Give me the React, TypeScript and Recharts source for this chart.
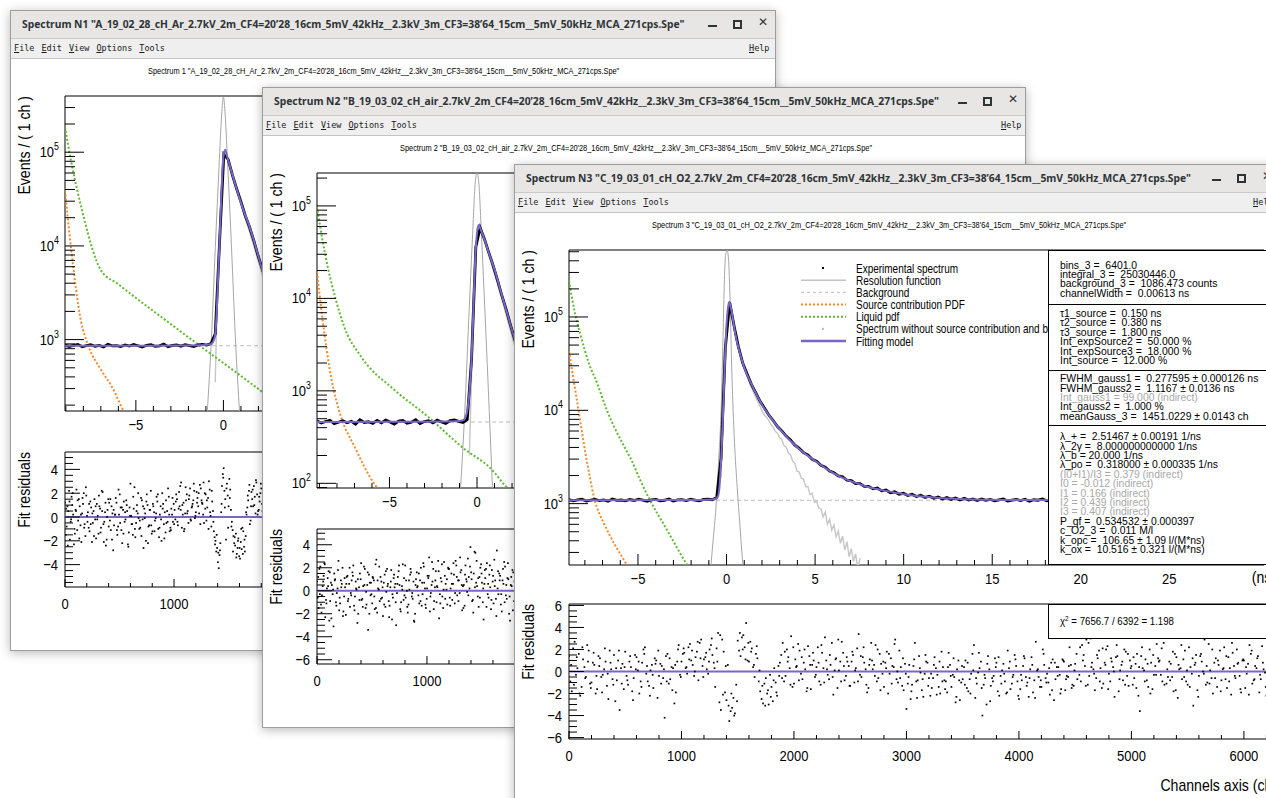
import React from 'react';
import { ComposedChart, Line, Scatter, XAxis, YAxis, ReferenceArea, Legend } from 'recharts';

const HELV = "'Liberation Sans', Arial, sans-serif";
const K = 0.84; // ROOT's Helvetica is narrower than Liberation Sans

const PURPLE = '#7a65c8';
const ORANGE = '#f5892b';
const GREEN = '#5db932';
const RES_GRAY = '#a6a6a6';
const BG_GRAY = '#bcbcbc';
const WO_GRAY = '#c6c6c6';

const CH_WIDTH = 0.00613; // ns per channel
const N_CH = 6401;
const EXP_STEP = 40; // experimental points kept every 40 channels
const WO_STEP = 20; // "without source" points kept every 20 channels

const TITLE_1 = 'Spectrum N1 "A_19_02_28_cH_Ar_2.7kV_2m_CF4=20\u201928_16cm_5mV_42kHz__2.3kV_3m_CF3=38\u201964_15cm__5mV_50kHz_MCA_271cps.Spe"';
const TITLE_2 = 'Spectrum N2 "B_19_03_02_cH_air_2.7kV_2m_CF4=20\u201928_16cm_5mV_42kHz__2.3kV_3m_CF3=38\u201964_15cm__5mV_50kHz_MCA_271cps.Spe"';
const TITLE_3 = 'Spectrum N3 "C_19_03_01_cH_O2_2.7kV_2m_CF4=20\u201928_16cm_5mV_42kHz__2.3kV_3m_CF3=38\u201964_15cm__5mV_50kHz_MCA_271cps.Spe"';
const SUB_1 = 'Spectrum 1 "A_19_02_28_cH_Ar_2.7kV_2m_CF4=20\'28_16cm_5mV_42kHz__2.3kV_3m_CF3=38\'64_15cm__5mV_50kHz_MCA_271cps.Spe"';
const SUB_2 = 'Spectrum 2 "B_19_03_02_cH_air_2.7kV_2m_CF4=20\'28_16cm_5mV_42kHz__2.3kV_3m_CF3=38\'64_15cm__5mV_50kHz_MCA_271cps.Spe"';
const SUB_3 = 'Spectrum 3 "C_19_03_01_cH_O2_2.7kV_2m_CF4=20\'28_16cm_5mV_42kHz__2.3kV_3m_CF3=38\'64_15cm__5mV_50kHz_MCA_271cps.Spe"';
const MENU = ['File', 'Edit', 'View', 'Options', 'Tools'];

// ---------- spectrum 1 (cH Ar) ----------
const t0Ch1 = 1476;
const bg1 = 860;
const modelT1 = [-9.048, -4, -1.2, -0.7, -0.5, -0.4, -0.3, -0.2, -0.1, 0, 0.1, 0.23, 0.4, 0.61, 0.9, 1.2, 1.56, 1.9, 2.31, 2.8, 3.5];
const model1 = [860, 862, 870, 900, 1050, 1700, 4800, 14000, 42000, 90000, 106000, 88000, 68000, 50000, 33000, 22500, 14700, 9000, 4900, 3000, 1900];
const resT1 = [-0.92, -0.7, -0.46, -0.25, -0.1, 0, 0.1, 0.25, 0.46, 0.7, 0.92];
const res1 = [171, 900, 9800, 70000, 250000, 390000, 250000, 70000, 9800, 900, 171];
const srcT1 = [-9.048, -8.71, -8.14, -7.72, -7.0, -6.33, -5.67, -5.3];
const src1 = [39000, 9700, 1600, 860, 480, 304, 170, 140];
const liqT1 = [-9.048, -8.7, -8.3, -7.93, -7.5, -7.0, -6.0, -5.12, -3.22, -1.32, 0.58, 2.3, 3.6];
const liq1 = [186000, 80000, 36000, 18700, 9500, 5500, 3900, 2900, 1570, 850, 468, 270, 180];
const exp1 = [872, 845, 866, 889, 838, 861, 880, 850, 868, 833, 892, 857, 864, 842, 879, 853, 886, 860, 835, 870,
  883, 848, 859, 894, 840, 867, 876, 851, 884, 862, 844, 878, 889, 873, 905,
  1150, 11000, 95000, 84000, 57000, 40500, 29500, 21000, 15800, 11300, 7800, 5600, 4200];
const woStart1 = 1400;
const wo1 = [350, 3500, 12500, 42000, 92000, 104000, 82000, 67000, 55000, 46000, 38500, 32500, 27500, 23000, 19500,
  16500, 14000, 11800, 9900, 8300, 6900, 5800, 4800, 4000, 3300, 2700];
// fit residuals, every 15 channels, starting at channels 0, 7 and 11
const resid1 = [1.2, -0.8, 0.5, -1.9, 1.7, 0.2, -1.4, 2.3, -0.3, 0.9, -2.1, 1.1, -0.6, 1.8,
  0.4, -1.2, 0.8, -0.5, 1.5, -1.8, 0.1, 0.9, -0.9, 2.1, -0.4, -2.4, 0.6, 1.2, -1.1, 0.3, -0.7, 1.6, -1.5, 0.2,
  0.8, -2.2, 1.3, -0.2, 0.5, -1.3, 2.8, -0.6, 0.7, -1.7, 1.0, -0.1, -0.9, 1.4, -2.6, 0.3, 1.9, -0.8, 0.6, -1.4,
  0.9, -0.3, 1.7, -1.0, 0.2, -2.0, 1.1, 0.4, -0.5, 2.4, -1.2, 0.7, -0.4,
  0.6, 1.9, -0.7, 0.9, 2.9, 0.2, -1.0, 1.4, 0.5, 1.8, -0.3, 1.1, 2.2, 0.4,
  1.6, 0.3, 2.4, 1.1, -0.5, 1.9, 0.8, 3.0, 0.1, 1.3, -1.2, -2.0, -2.6,
  -4.3, -2.2, 2.6, 4.1, 1.5, 2.8, 0.9, 2.3, -0.4, -1.6, -2.4, -3.1, -1.8, -3.5, -2.7, -1.2, -2.9, 0.2, 1.4, -0.6,
  2.1, 0.9, 1.7, 2.9, 0.5, 1.3, 2.4];
const resid1b = [-1.5, 0.9, 2.2, -0.4, 1.0, -2.3, 0.6, -1.1, 1.5, -0.7, 0.3, 2.0, -1.6, 0.1,
  -0.9, 1.3, -2.1, 0.5, -0.2, 1.1, -1.4, 0.7, 2.2, -0.6, 0.4, -1.9, 1.5, -0.3, 0.9, -2.8, 0.2, 1.2, -0.8, 1.9,
  -1.1, 0.6, -0.4, 1.4, -2.3, 0.8, 0.1, -1.5, 2.5, -0.5, 0.3, -1.0, 1.6, -0.2, 0.7, -2.0, 1.0, -0.7, 2.2, -1.2,
  0.4, -0.1, 1.3, -1.7, 0.9, 2.0, -0.6, -1.3, 0.5, 1.7, -0.9, 0.2, 1.1,
  -0.2, 1.5, 0.7, 2.6, -0.9, 1.2, 0.3, 1.9, -0.5, 2.4, 0.8, 1.4, -0.1, 2.1,
  0.9, 2.7, 1.4, 0.2, 2.0, -0.3, 1.6, 2.3, -0.8, 0.5, -1.7, -2.9, -3.8,
  -3.2, 0.4, 3.6, 2.2, -1.9, 1.8, 3.2, 0.6, -1.1, -2.2, -1.4, -2.6, -3.3, -2.1, -0.9, -2.5, -1.6, 0.8, 2.2, -0.3,
  1.5, 2.6, 0.3, 1.9, 0.6, 2.0, 1.1];
const resid1c = [0.7, -2.4, 1.3, -0.2, 2.0, -1.0, 0.5, 1.4, -1.8, 0.2, 1.6, -0.9, 2.5, -0.4,
  1.1, -0.6, 0.3, -1.6, 0.9, -0.2, 1.8, -1.3, 0.5, -2.1, 1.2, 0.0, -0.8, 1.5, -1.9, 0.6, 0.2, -1.1, 2.3, -0.5,
  0.8, -1.4, 0.4, 1.0, -2.5, 0.1, -0.6, 1.7, -1.0, 0.5, 2.0, -0.3, -1.6, 0.9, -0.1, 1.3, -2.2, 0.6, -0.7, 1.1,
  -1.2, 0.3, 1.9, -0.9, -0.2, 0.7, -1.8, 1.4, -0.4, 0.2, -1.1, 1.6, -0.6,
  1.3, -0.4, 2.1, 0.6, 1.0, -1.2, 2.5, 0.3, 1.5, -0.2, 0.9, 2.8, 0.1, 1.2,
  2.0, -0.6, 1.2, 2.9, 0.7, 1.4, -1.0, 0.4, 2.2, -0.4, -2.3, -1.5, -3.0,
  -2.8, 1.1, 3.3, 0.8, 2.4, -0.9, 1.6, -0.8, -2.9, -1.7, -3.4, -2.0, -2.6, -1.0, -3.1, -1.9, 0.4, 1.8, 2.7, 0.9,
  2.3, 1.0, 3.1, 0.2, 1.7, 2.8, 0.5];

// ---------- spectrum 2 (cH air) ----------
const t0Ch2 = 1491;
const bg2 = 460;
const modelT2 = [-9.14, -4, -1.2, -0.8, -0.6, -0.45, -0.32, -0.22, -0.13, -0.05, 0.02, 0.1, 0.2, 0.44, 0.7, 1.01, 1.39, 1.75, 2.16, 2.6, 3.2];
const model2 = [460, 462, 468, 480, 560, 900, 2100, 6500, 20000, 40000, 55000, 62000, 56000, 42600, 30000, 20200, 11300, 6600, 3560, 2100, 1200];
const resT2 = [-0.94, -0.7, -0.47, -0.25, -0.1, 0, 0.1, 0.25, 0.47, 0.7, 0.88];
const res2 = [89, 600, 6000, 50000, 180000, 225000, 180000, 50000, 6000, 600, 89];
const srcT2 = [-9.14, -8.82, -8.34, -7.77, -7.0, -5.86, -5.5];
const src2 = [19400, 5900, 1420, 525, 250, 98, 80];
const liqT2 = [-9.14, -8.82, -8.53, -8.05, -7.58, -6.62, -4.71, -2.8, -0.9, 1.01, 1.49, 2.0];
const liq2 = [98000, 42000, 22000, 9500, 4900, 2340, 1020, 525, 250, 130, 100, 80];
const exp2 = [472, 448, 466, 481, 441, 458, 476, 452, 469, 437, 486, 455, 463, 444, 479, 451, 483, 460, 436, 470,
  478, 447, 457, 488, 442, 465, 474, 450, 482, 461, 445, 477, 484, 468, 456, 490,
  2200, 36000, 58000, 44000, 31500, 22800, 16000, 11000, 7800, 5300, 3650, 2750, 2000];
const woStart2 = 1420;
const wo2 = [200, 1500, 7500, 34000, 55000, 55000, 48000, 41500, 35500, 29800, 25000, 21000, 17500, 14600, 12000,
  10000, 8200, 6800, 5600, 4600, 3800, 3100, 2500, 2050, 1680, 1360];
const resid2 = [0.8, -1.5, 2.1, -0.4, 1.3, -2.3, 0.2, 1.7, -0.9, 0.5, -3.1, 1.0, -0.2, 2.6, -1.1, 0.6, -1.8, 0.3, 1.2, -0.7,
  -1.4, 0.9, 2.2, -0.5, 0.1, -2.0, 1.5, -0.8, 0.4, 1.9, -1.2, -3.4, 0.7, -0.3, 1.1, -1.6, 2.7, 0.2, -0.9, 0.8,
  -2.2, 1.4, -0.1, 0.6, -1.3, 1.8, -0.6, 0.3, -3.0, 1.2, 0.5, -1.0, 2.3, -0.4, 0.9, -1.9, 0.1, 1.6, -0.7, -2.7,
  1.0, 0.4, -1.1, 2.0, -0.3, 0.7, -1.5, 1.3, 2.9, -0.2, 0.8, -0.9, 1.7, 0.3, -2.4, 1.1, -0.5, 2.5, 0.6, -1.2,
  1.9, 0.2, -0.8, 1.4, 2.6, -0.4, 0.9, 1.6, -1.7, 0.5, 2.2, -0.1, 1.2, 3.8, -0.9, 1.5, 3.3, 0.4, -1.4, 2.0,
  0.7, -2.5, 1.1, 2.4, -0.6, 0.3, 1.8, -1.1, 0.9, 3.5, -0.3, 1.3, -1.8, 0.6, 2.1, -0.7, 1.0, -2.6, 0.4, 1.6, 0.2];
const resid2b = [-0.6, 1.9, -1.2, 0.4, 2.4, -0.8, 1.1, -2.6, 0.7, -0.3, 1.5, -1.0, 0.2, -1.7, 0.9, 2.0, -0.5, -2.1, 1.3, 0.6,
  -0.2, 1.6, -1.3, 0.8, -2.8, 0.3, 1.0, -0.7, 2.1, -1.5, 0.5, 1.4, -0.4, -1.1, 0.9, 2.3, -1.9, 0.1, 1.2, -0.6,
  0.7, -1.4, 1.9, -0.9, 0.3, -2.5, 1.1, 0.6, -0.2, 1.7, -1.6, 0.4, -0.8, 2.2, 0.0, -1.2, 1.4, -0.5, 0.8, -2.0,
  1.6, -0.4, 0.9, -1.3, 2.4, 0.2, -0.7, 1.1, -1.8, 0.5, 1.9, 0.3, -1.0, 2.6, -0.3, 0.8, -1.5, 1.3, 0.1, 2.0,
  -0.6, 1.5, 0.6, -1.1, 2.2, 0.9, -0.2, 1.8, 0.4, -1.3, 1.0, 2.8, 0.2, 1.6, -0.8, 3.4, 0.7, -0.5, 1.2, 2.3,
  -1.0, 0.6, 1.9, -0.3, 1.4, -1.6, 0.8, 2.7, -0.7, 0.2, 1.5, -1.2, 0.9, 2.5, -0.4, 1.1, -2.0, 0.5, 1.8, -0.9, 0.3];
const resid2c = [1.2, -0.3, -1.9, 0.8, 2.3, -1.1, 0.4, 1.6, -2.4, 0.1, 0.9, -1.3, 1.8, -0.6, 0.3, -2.2, 1.1, 0.6, -0.9, 2.0,
  -0.4, 1.3, -1.7, 0.2, 1.0, -0.8, 2.4, -1.4, 0.5, -0.1, 1.6, -2.0, 0.7, 1.2, -0.5, -1.5, 0.9, 2.1, -0.7, 0.3,
  -1.2, 1.7, 0.4, -2.3, 0.8, -0.3, 1.4, -1.0, 0.6, 2.2, -1.8, 0.1, 1.1, -0.6, -1.4, 0.9, 1.9, -0.2, -2.6, 0.5,
  0.3, 1.5, -0.9, 0.7, 2.1, -1.2, 0.2, 1.3, -0.5, 2.5, -1.6, 0.9, 0.4, 1.7, -1.1, 2.3, 0.1, -0.7, 1.0, 1.9,
  -1.3, 0.6, 2.4, -0.2, 1.2, -0.9, 2.9, 0.5, -1.5, 1.4, 0.8, -0.4, 2.1, 1.0, -1.9, 0.3, 2.6, 1.1, -0.6, 1.5,
  0.2, 1.8, -1.4, 0.6, 2.2, -0.8, 1.3, 0.4, -2.2, 1.7, 0.9, -0.3, 1.9, -1.0, 0.5, 2.4, -0.5, 1.2, -1.7, 0.8, 1.4];

// ---------- spectrum 3 (cH O2) ----------
const t0Ch3 = 1451;
const bg3 = 1086.473;
const modelT3 = [-8.895, -6, -3, -1.5, -0.8, -0.5, -0.4, -0.3, -0.2, -0.1, 0, 0.08, 0.15, 0.22, 0.3, 0.4, 0.5, 0.75, 1, 1.5,
  2, 2.5, 3, 4, 5, 6, 7, 8, 9, 10, 12, 14, 17, 20, 25, 30.345];
const model3 = [1088, 1089, 1091, 1095, 1105, 1180, 1500, 3100, 9000, 30000, 83000, 125000, 146000, 132000, 111000, 85000,
  65000, 41000, 28700, 17500, 11500, 8300, 6300, 4000, 2870, 2140, 1740, 1510, 1370, 1260, 1150, 1110, 1095, 1090, 1088, 1087];
const resT3 = [-0.88, -0.75, -0.6, -0.45, -0.3, -0.2, -0.12, -0.05, 0.03, 0.11, 0.2, 0.3, 0.45, 0.6, 0.75, 0.92];
const res3 = [220, 420, 900, 2800, 11000, 60000, 250000, 470000, 520000, 420000, 150000, 25000, 4500, 1500, 600, 220];
const srcT3 = [-8.895, -8.65, -8.44, -8.2, -7.96, -7.72, -7.48, -7.2, -6.9, -6.6, -6.32, -6.0, -5.65, -5.3];
const src3 = [43000, 22000, 12600, 6500, 3400, 1950, 1150, 800, 600, 460, 365, 290, 224, 180];
const liqT3 = [-8.895, -8.6, -8.25, -7.8, -7.28, -6.8, -6.32, -5.84, -5.36, -4.88, -4.39, -3.43, -2.24, -1.8];
const liq3 = [244000, 120000, 65000, 33000, 19000, 10500, 6500, 4300, 2900, 1800, 1150, 550, 224, 170];
const exp3 = [1102, 1071, 1095, 1118, 1064, 1089, 1110, 1077, 1098, 1060, 1121, 1085, 1093, 1069, 1107, 1081, 1115, 1090,
  1058, 1099, 1112, 1074, 1087, 1124, 1066, 1096, 1105, 1079, 1113, 1092, 1070, 1108, 1119, 1101, 1160,
  3050, 47000, 143000, 80500, 48200, 32100, 24700, 19000, 15500, 12500, 10600, 8900, 7780, 6700, 6020, 5290, 4820,
  4230, 3910, 3520, 3330, 2990, 2850, 2570, 2460, 2230, 2140, 1980, 1940, 1780, 1760, 1640, 1640, 1530, 1530, 1440,
  1470, 1370, 1400, 1310, 1340, 1260, 1290, 1220, 1260, 1190, 1230, 1165, 1200, 1140, 1180, 1120, 1160, 1110, 1150,
  1095, 1140, 1090, 1125, 1080, 1120, 1085,
  1110, 1072, 1098, 1120, 1066, 1093, 1107, 1079, 1115, 1061, 1100, 1088, 1123, 1070, 1096, 1109, 1083, 1062, 1117,
  1091, 1075, 1104, 1126, 1068, 1094, 1111, 1080, 1099, 1065, 1116, 1087, 1072, 1106, 1121, 1077, 1097, 1059, 1113,
  1090, 1084, 1118, 1069, 1101, 1093, 1076, 1125, 1063, 1108, 1086, 1114, 1071, 1097, 1105, 1067, 1119, 1082, 1094,
  1073, 1110, 1089, 1062, 1103, 1117, 1080];
const woStart3 = 1400;
const wo3 = [1900, 9500, 46000, 100000, 140000, 108000, 78000, 58000, 46000, 38000, 31000, 26500, 23000, 20000, 17600,
  15500, 13800, 12300, 11000, 9800, 8900, 8350, 7800, 7050, 6600, 5950, 5700, 5100, 4850, 4200, 4050, 3500, 3350,
  2850, 2700, 2230, 2180, 1870, 1830, 1520, 1530, 1250, 1290, 1030, 1060, 900, 880, 720, 810, 600, 680, 520, 590,
  440, 510, 375, 450, 320, 390, 270, 330, 240, 290, 200, 260];
// fit residuals, every 25 channels, starting at channels 0, 12 and 19
const resid3 = [1.4, -1.8, 2.7, 0.3, -2.2, 1.1, -0.5, 1.9,
  -1.0, 0.6, -1.6, 1.2, -0.3, 0.9, -2.5, 0.2, 1.5, -0.8, -3.5, 0.7,
  1.8, -1.2, 0.4, -0.6, 1.3, -2.0, 0.8, 2.2, -0.9, 0.1, -1.5, 1.0, -0.4, 0.5, -4.2, 1.6, -0.7, 0.3, -1.9, 2.4,
  0.9, 1.7, -0.2, 2.5, 0.6, 1.3, -0.8, 2.9, 1.1, 0.2, 2.0, 1.5,
  -1.4, 3.5, -3.5, 1.8, -2.6, -4.5, -3.3, -3.8,
  2.8, 1.4, 3.3, 4.4, 0.9, 2.1, -0.5, 1.2,
  -1.8, -2.9, -0.6, -3.0, -1.4, 0.3, -2.2,
  0.8, 2.6, -0.4, 1.3, 3.2, -1.1, 0.5, 1.9, -0.7, 0.2, 2.3, -1.6, 1.0, 0.4, -0.9, 1.7, 3.1, -0.3, 0.6, -2.1, 1.2, 0.1, 2.7, -0.8, 0.9,
  -1.3, 1.5, 0.3, 3.4, -0.5, 0.8, -1.9, 1.1, 0.2, 2.4, -0.6, 0.7, -1.4, 1.8, -0.2, 0.5, 2.9, -1.0, 0.4, -1.7,
  -3.4, 0.6, -1.2, 2.6, -0.8, -0.1, -2.3, 0.9, -0.6, -1.5, 1.3, -0.3, -2.0, 0.4, -0.9, 1.7, -1.4, -0.5, 0.2, -2.6,
  -0.7, 1.0, -1.8, -0.2, 2.4, -1.1, 0.3, -4.0, -0.6, 1.4, -1.3, -0.4, 0.8, -2.2, 0.1, -0.9, 1.9, -1.6, -0.3, 0.5,
  -2.5, -0.8, 1.2, -1.0, 0.2, -1.9, 2.7, -0.5, -1.4, 0.6, -0.2, -2.1, 1.1, -0.7, 0.4, -1.6, 0.9, -0.4, 2.2, -1.2,
  0.7, 3.4, -0.9, 1.5, 2.9, -0.4, 0.8, -1.7, 1.2, 0.3, -1.1, 2.0, -0.2, 0.9, -2.3, 1.4, 0.1, -0.8, 1.8, -1.3,
  0.5, -0.6, 1.6, -3.6, 0.3, 1.1, -1.4, 0.8, -0.3, 2.5, 1.0, -0.9, 3.3, -0.5, 0.7, -1.8, 1.3, 0.2, -0.7, 1.9,
  -1.2, 0.4, -3.1, 1.5, -0.4, 0.9, 2.9, -1.0, 0.1, -2.0, 1.2, 0.6, -0.8, 2.2, -1.5, 0.3, 1.7, -0.6, 0.8, -1.9,
  1.0, -0.2, 2.4, -1.1, 0.5, 1.4, -0.7, 0.2, -2.2, 1.8, 0.7, -0.9, 2.6, -0.3, 1.1, -1.3, 0.4];
const resid3b = [-0.9, 2.1, -0.3, 1.6, -1.4, 0.4, 2.4, -1.1,
  0.8, -2.0, 1.4, -0.5, 0.2, -1.3, 1.9, -0.7, -2.7, 1.0, 0.3, -1.6,
  -0.4, 0.9, -1.8, 1.5, 0.1, -0.9, 2.0, -0.2, -1.3, 0.6, 1.2, -2.4, 0.7, -0.6, 1.4, -1.1, 0.4, -2.9, 0.9, -0.3,
  1.6, 0.3, 2.2, 1.0, -0.4, 1.8, 2.6, 0.5, 1.3, -0.2, 2.4, 0.8,
  2.1, -2.8, 2.9, -1.9, 0.6, -3.6, -2.4, -1.2,
  1.9, 3.1, 2.2, 1.0, 2.7, 0.4, 1.6, -0.9,
  -2.5, -1.1, -2.0, -0.3, -2.7, -1.0, 0.5,
  1.5, -0.9, 2.0, 0.3, -1.4, 1.1, 2.5, -0.2, 0.8, -1.8, 1.4, 0.6, -0.5, 2.2, -1.2, 0.3, 1.0, -0.7, 2.6, 0.1, -1.5, 0.9, 1.7, -0.4, 0.5,
  0.9, -1.0, 2.1, -0.3, 1.3, 0.2, -1.5, 2.6, 0.6, -0.9, 1.6, -0.2, 0.8, -2.0, 1.2, 0.4, -0.7, 1.9, -1.3, 0.7,
  -1.1, -2.5, 0.5, -0.9, 1.4, -1.7, -0.2, 0.8, -2.2, -0.6, 0.3, -1.4, 1.8, -0.8, -1.9, 0.6, -0.3, -2.8, 1.0, -1.0,
  0.4, -1.5, -0.7, 1.6, -2.4, -0.1, 0.9, -1.2, -3.0, 0.2, -0.6, 1.2, -1.8, -0.4, 0.7, -2.0, 0.3, -1.1, 1.5, -0.9,
  -1.6, 0.5, -0.5, -2.3, 1.3, -0.8, 0.1, -1.4, 2.0, -0.6, -1.0, 0.8, -2.6, 0.4, -0.3, 1.1, -1.7, -0.5, 0.6, -1.3,
  1.6, -0.3, 2.4, 0.5, -1.2, 3.0, 0.2, -0.6, 1.9, -1.5, 0.8, 2.3, -0.9, 0.4, 1.3, -1.8, 0.6, 2.0, -0.4, 1.0,
  -1.2, 0.7, -2.2, 1.4, 0.1, -0.8, 2.0, -1.6, 0.5, 1.2, -0.3, 2.6, -1.1, 0.9, -0.5, 1.6, -2.4, 0.3, 1.1, -0.9,
  2.2, -0.2, 0.6, -1.7, 1.4, 0.0, -1.2, 2.5, -0.6, 0.8, -1.4, 1.9, 0.2, -0.7, 1.3, -2.1, 0.5, 2.0, -0.4, 1.0,
  -1.5, 0.7, 1.6, -0.8, 0.3, -1.9, 2.3, -0.1, 0.9, -1.0, 1.5, -0.5, 0.4, 2.1, -1.3, 0.6];
const resid3c = [0.6, -1.2, 1.3, -2.0, 2.2, -0.6, 0.9, -1.5,
  1.7, -0.4, 0.5, -1.9, 2.1, -0.2, 0.8, -1.2, 0.3, 1.9, -1.1, 0.4,
  -0.8, 1.4, -2.6, 0.2, 0.9, -1.4, 1.6, 0.5, -2.2, -0.3, 0.7, 1.9, -1.1, 0.2, -0.9, 1.2, -1.7, 0.6, 2.0, -0.5,
  2.1, 0.4, 1.1, 1.9, 0.0, 2.7, 1.2, -0.5, 1.7, 0.9, 3.0, 0.3,
  0.9, 3.3, -2.1, 0.5, -3.1, -2.0, -4.0, -2.7,
  3.5, 2.0, 1.1, 2.6, 1.8, 0.6, 2.3, 0.1,
  -1.3, -3.1, -1.7, -2.3, -0.8, -1.9, -0.4,
  -0.6, 1.8, 0.9, -1.2, 2.2, 0.4, -0.8, 1.3, 2.0, -1.5, 0.6, 1.7, -0.3, 0.8, 2.4, -1.0, 0.2, 1.5, -0.5, 1.1, 2.9, -0.9, 0.5, 1.3, -1.3,
  1.8, 0.1, -0.9, 1.4, 2.2, -1.2, 0.6, 1.0, -0.4, 2.0, -1.7, 0.9, 0.3, 1.6, -1.1, 2.5, 0.0, -0.6, 1.2, -0.2,
  -0.5, -1.8, 1.1, -2.4, 0.3, -0.7, 1.5, -1.3, -0.2, 0.6, -2.1, 0.9, -0.9, -1.6, 0.4, -0.4, 1.2, -2.3, -0.8, 0.5,
  -1.2, 0.8, -2.0, 0.1, -0.6, 1.7, -1.5, -0.3, 0.7, -2.7, -0.9, 0.4, 1.3, -1.1, -0.2, -1.9, 0.9, -0.5, 1.1, -2.2,
  -0.3, 1.4, -1.3, -0.6, 0.6, -2.4, 0.2, -0.8, 1.6, -1.0, 0.3, -1.7, 0.8, -0.4, -2.0, 1.0, -0.7, 0.5, -1.5, 0.1,
  -0.7, 2.2, 1.0, -1.3, 2.6, 0.4, -0.2, 1.5, -0.9, 2.1, 0.6, -1.6, 1.2, 0.0, 2.4, -0.7, 0.9, -1.2, 1.6, 0.3,
  1.3, -1.5, 0.4, 2.2, -0.9, 0.7, -2.0, 1.5, -0.3, 0.9, 2.1, -1.2, 0.2, -0.8, 1.8, -1.7, 0.6, 2.4, -0.5, 0.1,
  -1.4, 1.2, 0.8, -2.3, 1.6, -0.2, 0.5, -1.1, 2.0, -0.6, 1.0, -1.8, 0.3, 1.4, -0.9, 2.6, -0.4, 0.7, -1.6, 1.1,
  0.4, -2.1, 1.9, -0.7, 1.2, -0.3, 0.8, -1.4, 2.2, 0.0, -0.9, 1.6, -1.9, 0.6, 1.3, -0.5];

// ---------- fit-result boxes (spectrum 3) ----------
const stats3 = [
  [['bins_3 =  6401.0'], ['integral_3 =  25030446.0'], ['background_3 =  1086.473 counts'], ['channelWidth =  0.00613 ns']],
  [['\u03c41_source =  0.150 ns'], ['\u03c42_source =  0.380 ns'], ['\u03c43_source =  1.800 ns'], ['Int_expSource2 =  50.000 %'],
    ['Int_expSource3 =  18.000 %'], ['Int_source =  12.000 %']],
  [['FWHM_gauss1 =  0.277595 \u00b1 0.000126 ns'], ['FWHM_gauss2 =  1.1167 \u00b1 0.0136 ns'], ['Int_gauss1 = 99.000 (indirect)', 'dim'],
    ['Int_gauss2 =  1.000 %'], ['meanGauss_3 =  1451.0229 \u00b1 0.0143 ch']],
  [['\u03bb_+ =  2.51467 \u00b1 0.00191 1/ns'], ['\u03bb_2\u03b3 =  8.000000000000 1/ns'], ['\u03bb_b = 20.000 1/ns'],
    ['\u03bb_po =  0.318000 \u00b1 0.000335 1/ns'], ['(I0+I1)/I3 = 0.379 (indirect)', 'dim'], ['I0 = -0.012 (indirect)', 'dim'],
    ['I1 = 0.166 (indirect)', 'dim'], ['I2 = 0.439 (indirect)', 'dim'], ['I3 = 0.407 (indirect)', 'dim'],
    ['P_qf =  0.534532 \u00b1 0.000397'], ['c_O2_3 =  0.011 M/l'], ['k_opc =  106.65 \u00b1 1.09 l/(M*ns)'], ['k_ox =  10.516 \u00b1 0.321 l/(M*ns)']],
];
const statsSecH = [53, 66, 55, 141];
const statsSecPad = [9.6, 4, 3.3, 6.3];
const chi2Text = ' = 7656.7 / 6392 = 1.198';

const legendRows = [
  { name: 'Experimental spectrum', kind: 'dot', color: '#000' },
  { name: 'Resolution function', kind: 'line', color: RES_GRAY, w: 1 },
  { name: 'Background', kind: 'line', color: BG_GRAY, w: 1, dash: '3 3' },
  { name: 'Source contribution PDF', kind: 'line', color: ORANGE, w: 2, dash: '2 2' },
  { name: 'Liquid pdf', kind: 'line', color: GREEN, w: 2, dash: '2 2' },
  { name: 'Spectrum without source contribution and bg', kind: 'dot', color: '#bdbdbd' },
  { name: 'Fitting model', kind: 'line', color: PURPLE, w: 2.5 },
];

// ---------- helpers ----------
const pts = (xs: number[], ys: number[]) => xs.map((x, i) => ({ x, y: ys[i] }));

const buildSpec = (s: any) => {
  const tMin = -s.t0 * CH_WIDTH;
  const tMax = (N_CH - s.t0) * CH_WIDTH;
  const toT = (ch: number) => (ch - s.t0) * CH_WIDTH;
  return {
    ...s,
    tMin,
    tMax,
    bgLine: pts([tMin, tMax], [s.bg, s.bg]),
    modelPts: pts(s.modelT, s.model),
    resPts: pts(s.resT, s.res),
    srcPts: pts(s.srcT, s.src),
    liqPts: pts(s.liqT, s.liq),
    expPts: s.exp.map((y: number, i: number) => ({ x: toT(i * EXP_STEP), y })),
    woPts: s.wo.map((y: number, i: number) => ({ x: toT(s.woStart + i * WO_STEP), y })),
    residPts: s.residSets.flatMap(([vals, off]: [number[], number]) =>
      vals.map((y, i) => ({ x: off + i * s.residStep, y }))),
    zero: pts([0, N_CH], [0, 0]),
  };
};

const spec1 = buildSpec({ t0: t0Ch1, bg: bg1, y: [173, 398000], r: [-5.88, 5.46], modelT: modelT1, model: model1, resT: resT1, res: res1,
  srcT: srcT1, src: src1, liqT: liqT1, liq: liq1, exp: exp1, woStart: woStart1, wo: wo1, residStep: 15,
  residSets: [[resid1, 0], [resid1b, 7], [resid1c, 11]] });
const spec2 = buildSpec({ t0: t0Ch2, bg: bg2, y: [89, 227000], r: [-6.37, 5.37], modelT: modelT2, model: model2, resT: resT2, res: res2,
  srcT: srcT2, src: src2, liqT: liqT2, liq: liq2, exp: exp2, woStart: woStart2, wo: wo2, residStep: 15,
  residSets: [[resid2, 0], [resid2b, 7], [resid2c, 11]] });
const spec3 = buildSpec({ t0: t0Ch3, bg: bg3, y: [220, 522000], r: [-6.13, 6.13], modelT: modelT3, model: model3, resT: resT3, res: res3,
  srcT: srcT3, src: src3, liqT: liqT3, liq: liq3, exp: exp3, woStart: woStart3, wo: wo3, residStep: 25,
  residSets: [[resid3, 0], [resid3b, 12], [resid3c, 19]] });

const logTicks = (lo: number, hi: number) => {
  const out: number[] = [];
  for (let e = Math.floor(Math.log10(lo)); e <= Math.ceil(Math.log10(hi)); e++) {
    for (let m = 1; m <= 9; m++) {
      const v = m * Math.pow(10, e);
      if (v >= lo && v <= hi) out.push(v);
    }
  }
  return out;
};

const stepTicks = (lo: number, hi: number, step: number) => {
  const out: number[] = [];
  for (let k = Math.ceil(lo / step - 1e-9); k * step <= hi + 1e-9; k++) out.push(+(k * step).toFixed(6));
  return out;
};

const fmt = (v: number) => (v < 0 ? '\u2212' + Math.abs(v) : String(v));

const Label = ({ x, y, anchor, children, size = 15.5 }: any) => (
  <text transform={`translate(${x},${y}) scale(${K},1)`} textAnchor={anchor} fontFamily={HELV} fontSize={size} fill="#000">
    {children}
  </text>
);

const logTick = (p: any) => {
  const v = p.payload.value;
  const e = Math.log10(v);
  const major = Math.abs(e - Math.round(e)) < 1e-9;
  return (
    <g>
      <line x1={p.x} x2={p.x + (major ? 19 : 10)} y1={p.y} y2={p.y} stroke="#000" />
      {major && (
        <Label x={p.x - 6} y={p.y + 5} anchor="end">
          10<tspan dy={-7} fontSize={10.5}>{Math.round(e)}</tspan>
        </Label>
      )}
    </g>
  );
};

const linTick = (p: any) => {
  const v = p.payload.value;
  const major = Math.abs(v / 2 - Math.round(v / 2)) < 1e-6;
  return (
    <g>
      <line x1={p.x} x2={p.x + (major ? 15 : 8)} y1={p.y} y2={p.y} stroke="#000" />
      {major && <Label x={p.x - 7} y={p.y + 5.5} anchor="end">{fmt(v)}</Label>}
    </g>
  );
};

const xTick = (step: number, lenMajor: number, lenMinor: number, dy: number, labelMax: number) => (p: any) => {
  const v = p.payload.value;
  const major = Math.abs(v / step - Math.round(v / step)) < 1e-6;
  return (
    <g>
      <line x1={p.x} x2={p.x} y1={p.y} y2={p.y - (major ? lenMajor : lenMinor)} stroke="#000" />
      {major && v <= labelMax && <Label x={p.x} y={p.y + dy} anchor="middle">{fmt(v)}</Label>}
    </g>
  );
};

const resDot = (p: any) => <rect x={p.cx - 0.85} y={p.cy - 0.85} width={1.7} height={1.7} fill="#000" />;

function SpecLegend() {
  return (
    <svg width={420} height={90} style={{ display: 'block' }}>
      {legendRows.map((r, i) => {
        const y = 6 + i * 12.17;
        return (
          <g key={r.name}>
            {r.kind === 'dot' ? (
              <rect x={21} y={y - 1} width={2} height={2} fill={r.color} />
            ) : (
              <line x1={0} x2={45} y1={y} y2={y} stroke={r.color} strokeWidth={r.w} strokeDasharray={r.dash} />
            )}
            <text transform={`translate(55,${y + 4.5}) scale(0.8,1)`} fontFamily={HELV} fontSize={12.5} fill="#000">{r.name}</text>
          </g>
        );
      })}
    </svg>
  );
}

function SpectrumPad({ s, frameW, showLegend }: any) {
  const common = { dataKey: 'y', dot: false, isAnimationActive: false, activeDot: false } as any;
  return (
    <ComposedChart width={54 + frameW + 60} height={380} margin={{ top: 25, right: 60, bottom: 39, left: 53 }}>
      <XAxis type="number" dataKey="x" domain={[s.tMin, s.tMax]} allowDataOverflow ticks={stepTicks(s.tMin, s.tMax, 1)}
        interval={0} tick={xTick(5, 11, 5, 19, s.tMax - 1)} tickLine={false} axisLine={false} tickSize={0} tickMargin={0} height={1} />
      <YAxis type="number" scale="log" domain={s.y} allowDataOverflow ticks={logTicks(s.y[0], s.y[1])} interval={0}
        tick={logTick} tickLine={false} axisLine={false} tickSize={0} tickMargin={0} width={1} />
      <ReferenceArea x1={s.tMin} x2={s.tMax} y1={s.y[0]} y2={s.y[1]} fill="none" stroke="#000" strokeWidth={1} ifOverflow="visible" />
      <Line {...common} data={s.bgLine} stroke={BG_GRAY} strokeWidth={1} strokeDasharray="4 3" />
      <Line {...common} data={s.woPts} stroke={WO_GRAY} strokeWidth={1.4} />
      <Line {...common} data={s.resPts} stroke={RES_GRAY} strokeWidth={1} type="monotone" />
      <Line {...common} data={s.srcPts} stroke={ORANGE} strokeWidth={2} strokeDasharray="2 2" type="monotone" />
      <Line {...common} data={s.liqPts} stroke={GREEN} strokeWidth={2} strokeDasharray="2 2" type="monotone" />
      <Line {...common} data={s.expPts} stroke="#000" strokeWidth={2.8} />
      <Line {...common} data={s.modelPts} stroke={PURPLE} strokeWidth={2} type="monotone" />
      {showLegend && (
        <Legend content={() => <SpecLegend />} layout="vertical" align="center" verticalAlign="middle"
          wrapperStyle={{ left: 286, top: 37, width: 420 }} />
      )}
    </ComposedChart>
  );
}

function ResidualPad({ s, frameW }: any) {
  return (
    <ComposedChart width={54 + frameW + 60} height={216} margin={{ top: 21, right: 60, bottom: 59, left: 53 }}>
      <XAxis type="number" dataKey="x" domain={[0, N_CH]} allowDataOverflow ticks={stepTicks(0, N_CH, 200)} interval={0}
        tick={xTick(1000, 8, 4, 22, N_CH)} tickLine={false} axisLine={false} tickSize={0} tickMargin={0} height={1} />
      <YAxis type="number" domain={s.r} allowDataOverflow ticks={stepTicks(s.r[0], s.r[1], 0.5)} interval={0}
        tick={linTick} tickLine={false} axisLine={false} tickSize={0} tickMargin={0} width={1} />
      <ReferenceArea x1={0} x2={N_CH} y1={s.r[0]} y2={s.r[1]} fill="none" stroke="#000" strokeWidth={1} ifOverflow="visible" />
      <Scatter data={s.residPts} dataKey="y" shape={resDot} isAnimationActive={false} />
      <Line data={s.zero} dataKey="y" stroke={PURPLE} strokeWidth={1.8} dot={false} isAnimationActive={false} />
    </ComposedChart>
  );
}

function RootWindow({ left, top, width, z, title, subtitle, s, frameW, residW, residTop = 420, full }: any) {
  return (
    <div style={{ position: 'absolute', left, top, width, height: 641, zIndex: z, background: '#fff', border: '1px solid #9d9d9d',
      boxSizing: 'border-box', boxShadow: '0 2px 10px rgba(0,0,0,0.28)', overflow: 'hidden' }}>
      <div style={{ position: 'absolute', left: 0, top: 0, width: '100%', height: 27, background: '#e7e6e5', borderBottom: '1px solid #c9c9c9' }}>
        <div style={{ position: 'absolute', left: 11, top: 5, fontFamily: "'Noto Sans', sans-serif", fontWeight: 700, fontSize: 10.3,
          lineHeight: '16px', color: '#2e3436', whiteSpace: 'pre' }}>{title}</div>
        <div style={{ position: 'absolute', left: width - 69, top: 14, width: 9, height: 2, background: '#2e3436' }} />
        <div style={{ position: 'absolute', left: width - 44, top: 9, width: 5, height: 5, border: '2px solid #2e3436' }} />
        <div style={{ position: 'absolute', left: width - 19, top: 4, fontSize: 12, color: '#2e3436', fontFamily: "'DejaVu Sans', sans-serif" }}>{'\u2715'}</div>
      </div>
      <div style={{ position: 'absolute', left: 0, top: 28, width: '100%', height: 19, background: '#efefef', borderBottom: '1px solid #c3c3c3',
        fontFamily: "'DejaVu Sans Mono', monospace", fontSize: 8.5, lineHeight: '19px', color: '#1a1a1a' }}>
        <div style={{ position: 'absolute', left: 3, top: 0, whiteSpace: 'pre' }}>
          {MENU.map((m) => (
            <span key={m} style={{ marginRight: 7 }}><u>{m[0]}</u>{m.slice(1)}</span>
          ))}
        </div>
        <div style={{ position: 'absolute', left: 738, top: 0 }}><u>H</u>elp</div>
      </div>
      <div style={{ position: 'absolute', left: 137, top: 54, fontFamily: HELV, fontSize: 9, lineHeight: '12px', whiteSpace: 'pre',
        color: '#000', transform: 'scaleX(0.82)', transformOrigin: '0 0' }}>{subtitle}</div>

      <div style={{ position: 'absolute', left: 0, top: 60 }}>
        <SpectrumPad s={s} frameW={frameW} showLegend={full} />
      </div>
      <div style={{ position: 'absolute', left: 0, top: residTop }}>
        <ResidualPad s={s} frameW={residW} />
      </div>

      <svg width={width} height={641} style={{ position: 'absolute', left: 0, top: 0, pointerEvents: 'none' }} fontFamily={HELV} fontSize={16}>
        <text transform="translate(19,85) rotate(-90) scale(0.88,1)" textAnchor="end" fill="#000">Events / ( 1 ch )</text>
        <text transform={`translate(19,${residTop + 21}) rotate(-90) scale(0.88,1)`} textAnchor="end" fill="#000">Fit residuals</text>
        <text transform={`translate(${54 + frameW + 12},418) scale(0.88,1)`} textAnchor="end" fill="#000">(ns)</text>
        <text transform={`translate(${54 + residW - 12},626) scale(0.88,1)`} textAnchor="end" fill="#000">Channels axis (ch)</text>
      </svg>

      {full && (
        <div style={{ position: 'absolute', left: 533, top: 85, width: 300, height: 315, background: '#fff', border: '1px solid #000',
          boxSizing: 'border-box', fontFamily: HELV, fontSize: 10.4, color: '#000' }}>
          {stats3.map((sec, k) => (
            <div key={k} style={{ height: statsSecH[k], paddingTop: statsSecPad[k], paddingLeft: 11, boxSizing: 'border-box',
              borderTop: k ? '1px solid #000' : 'none' }}>
              {sec.map((l) => (
                <div key={l[0]} style={{ height: 9.4, lineHeight: '9.4px', whiteSpace: 'pre', color: l[1] ? '#a8a8a8' : '#000' }}>{l[0]}</div>
              ))}
            </div>
          ))}
        </div>
      )}
      {full && (
        <div style={{ position: 'absolute', left: 533, top: residTop + 21, width: 300, height: 35, background: '#fff', border: '1px solid #000',
          boxSizing: 'border-box', fontFamily: HELV, fontSize: 10.5, lineHeight: '33px', paddingLeft: 11, whiteSpace: 'pre' }}>
          <span style={{ display: 'inline-block', transform: 'scaleX(0.92)', transformOrigin: '0 50%' }}>
            {'\u03c7'}<sup style={{ fontSize: 7, lineHeight: 0 }}>2</sup>{chi2Text}
          </span>
        </div>
      )}
    </div>
  );
}

export default function App() {
  return (
    <div style={{ position: 'fixed', left: 0, top: 0, width: 1266, height: 798, overflow: 'hidden', background: '#fff' }}>
      <RootWindow left={10} top={10} width={766} z={1} title={TITLE_1} subtitle={SUB_1} s={spec1} frameW={687} residW={698} />
      <RootWindow left={262} top={87} width={764} z={2} title={TITLE_2} subtitle={SUB_2} s={spec2} frameW={687} residW={704} />
      <RootWindow left={514} top={164} width={766} z={3} title={TITLE_3} subtitle={SUB_3} s={spec3} frameW={695} residW={720}
        residTop={418} full />
    </div>
  );
}
